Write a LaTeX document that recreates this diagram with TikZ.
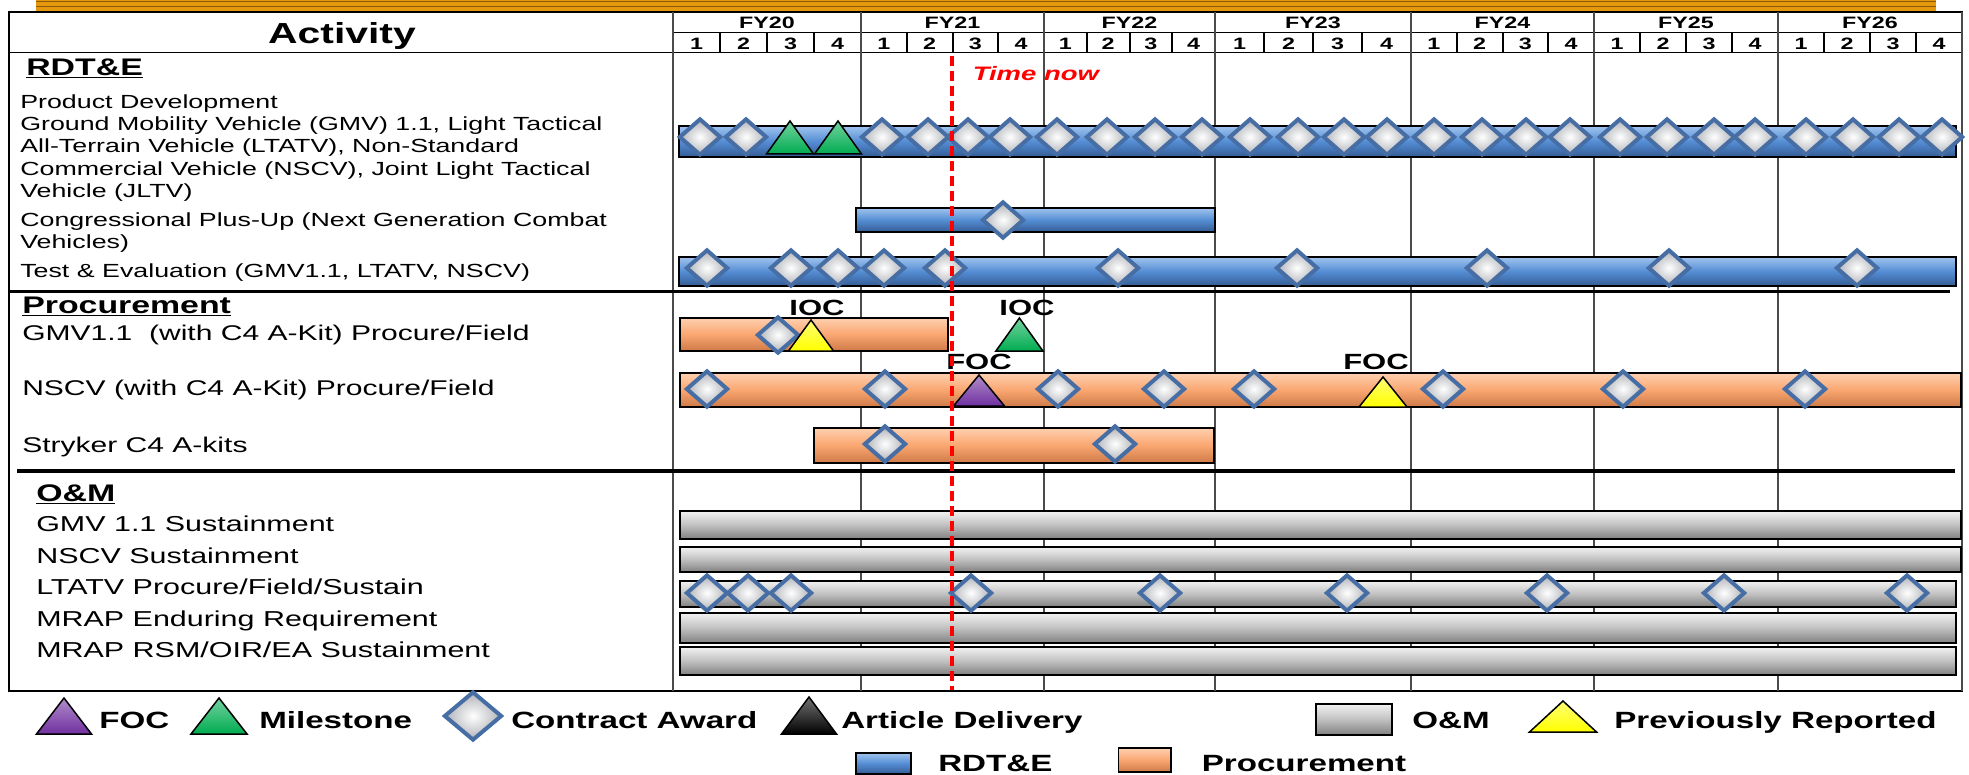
\documentclass[tikz,border=0pt]{standalone}
\usepackage{fontspec}
\setmainfont{Liberation Sans}
\usepackage{tikz}
\usetikzlibrary{shapes.geometric}
\definecolor{rdM}{RGB}{84,141,212}
\definecolor{rdL}{RGB}{160,196,238}
\definecolor{rdD}{RGB}{52,92,148}
\definecolor{prM}{RGB}{250,166,112}
\definecolor{prL}{RGB}{254,208,176}
\definecolor{prD}{RGB}{205,122,72}
\definecolor{omM}{RGB}{192,192,192}
\definecolor{omL}{RGB}{242,242,242}
\definecolor{omD}{RGB}{128,128,128}
\definecolor{awBlue}{RGB}{70,110,165}
\definecolor{awGray}{RGB}{175,177,182}
\definecolor{msGreen}{RGB}{0,172,80}
\definecolor{focPurple}{RGB}{112,48,160}
\definecolor{prevYellow}{RGB}{255,255,0}
\definecolor{bandOrange}{RGB}{229,152,14}
\definecolor{gridGray}{RGB}{75,75,75}
\tikzset{txt/.style={inner sep=0pt,xscale=1.41},
  lbl/.style={txt,anchor=base west,font=\fontsize{19}{22}\selectfont},
  lblb/.style={txt,anchor=base west,font=\fontsize{21.3}{24}\selectfont},
  sect/.style={txt,anchor=base west,font=\bfseries\fontsize{24}{28}\selectfont},
  leg/.style={txt,anchor=base west,font=\bfseries\fontsize{23.5}{28}\selectfont}
}

\begin{document}
\begin{tikzpicture}[x=1pt,y=-1pt]
		\tikzstyle{rbar}=[draw=black,line width=1.5pt,top color=rdL,bottom color=rdD,middle color=rdM]
		\tikzstyle{pbar}=[draw=black,line width=1.5pt,top color=prL,bottom color=prD,middle color=prM]
		\tikzstyle{obar}=[draw=black,line width=1.5pt,top color=omL,bottom color=omD,middle color=omM]
		\tikzstyle{award}=[diamond,minimum width=42pt,minimum height=37pt,inner sep=0pt,draw=awBlue,line width=4pt,inner color=white,outer color=awGray]
		\tikzstyle{bigaward}=[award,minimum width=58pt,minimum height=49pt]
		\tikzstyle{tri}=[draw=black,line width=1.5pt,line join=miter]
		\tikzstyle{fyhead}=[txt,anchor=base,font=\bfseries\fontsize{16.5}{18}\selectfont]
		\tikzstyle{mlab}=[txt,anchor=base,font=\bfseries\fontsize{22}{24}\selectfont]
		\tikzstyle{tframe}=[draw=black,line width=1.5pt]
		\tikzstyle{yline}=[draw=gridGray,line width=2pt]
		\tikzstyle{qtick}=[draw=black,line width=2pt]
		\tikzstyle{secline}=[draw=black,line width=3.5pt]
		\tikzstyle{tnow}=[draw=red,line width=3.5pt,dash pattern=on 10pt off 5pt]

		\useasboundingbox (0,0) rectangle (1969,775);

		% top band
		\fill[bandOrange] (36,0) rectangle (1936,11);
		\draw[bandOrange!60!black,line width=1pt] (36,1.5) -- (1936,1.5) (36,6.5) -- (1936,6.5);

		% table frame and header
		\draw[tframe] (9,12) rectangle (1962,691);
		\draw[tframe] (9,52.7) -- (1962,52.7);
		\draw[tframe] (673,32.3) -- (1962,32.3);
		\draw[yline] (673,12) -- (673,691);
		\node[txt,anchor=base,font=\bfseries\fontsize{29}{32}\selectfont] (act) at (342,43.7) {Activity};

		\foreach \a/\b [count=\k] in {673/861,861/1044,1044/1215,1215/1411,1411/1594,1594/1778,1778/1962}
		{
			\pgfmathtruncatemacro{\fy}{19+\k}
			\node[fyhead] (FY\fy) at ({(\a+\b)/2},28.5) {FY\fy};
			\foreach \q in {1,...,4}
			{
				\node[fyhead] (Q\fy-\q) at ({\a+(\q-0.5)*(\b-\a)/4},50) {\q};
				\ifnum \q>1
					\draw[qtick] ({\a+(\q-1)*(\b-\a)/4},32.3) -- ++(0,20.4);
				\fi
			}
			\draw[yline] (\b,12) -- (\b,691);
		}

		% section lines
		\draw[secline] (9,291.7) -- (1950,291.7);
		\draw[secline] (17,471) -- (1955,471);

		% RDT&E
		\node[sect] (rdte) at (26,75.3) {\underline{RDT\&E}};
		\node[lbl] (pd1) at (20,108.5) {Product Development};
		\node[lbl] (pd2) at (20,130.8) {Ground Mobility Vehicle (GMV) 1.1, Light Tactical};
		\node[lbl] (pd3) at (20,152.8) {All-Terrain Vehicle (LTATV), Non-Standard};
		\node[lbl] (pd4) at (20,175.1) {Commercial Vehicle (NSCV), Joint Light Tactical};
		\node[lbl] (pd5) at (20,197.5) {Vehicle (JLTV)};
		\node[lbl] (cp1) at (20,226.8) {Congressional Plus-Up (Next Generation Combat};
		\node[lbl] (cp2) at (20,248.5) {Vehicles)};
		\node[lbl] (te) at (20,277.5) {Test \& Evaluation (GMV1.1, LTATV, NSCV)};
		\draw[rbar] (679,126) rectangle (1956,157);
		\draw[rbar] (856,208) rectangle (1215,232);
		\draw[rbar] (679,257) rectangle (1956,286);

		% Procurement
		\node[sect] (proc) at (22,313.6) {\underline{Procurement}};
		\node[lblb] (gmv) at (22,340.8) {GMV1.1 \ (with C4 A-Kit) Procure/Field};
		\node[lblb] (nscv) at (22,395.8) {NSCV (with C4 A-Kit) Procure/Field};
		\node[lblb] (stry) at (22,452.5) {Stryker C4 A-kits};
		\draw[pbar] (680,318) rectangle (948,351);
		\draw[pbar] (680,373) rectangle (1961,407);
		\draw[pbar] (814,428) rectangle (1214,463);

		% O&M
		\node[sect] (om) at (36,501.9) {\underline{O\&M}};
		\foreach \t/\y [count=\i] in {{GMV 1.1 Sustainment}/531.7,{NSCV Sustainment}/563.7,{LTATV Procure/Field/Sustain}/594.4,{MRAP Enduring Requirement}/626,{MRAP RSM/OIR/EA Sustainment}/657.7}
			\node[lblb,font=\fontsize{21.6}{24}\selectfont] (om\i) at (36,\y) {\t};
		\foreach \ya/\yb/\xb in {511/539/1961,547/572/1961,581/607/1956,613/643/1956,647/675/1956}
			\draw[obar] (680,\ya) rectangle (\xb,\yb);

		% contract awards
		\foreach \x [count=\i] in {700,746,882,928,968,1010,1057,1107,1155,1202,1250,1298,1344,1387,1434,1482,1526,1570,1620,1667,1714,1755,1806,1853,1899,1942}
			\node[award] (pdA\i) at (\x,137) {};
		\node[award] (cpA1) at (1003,220) {};
		\foreach \x [count=\i] in {707,791,838,884,945,1118,1297,1487,1669,1857}
			\node[award] (teA\i) at (\x,268) {};
		\node[award] (gmvA1) at (778,335) {};
		\foreach \x [count=\i] in {707,885,1058,1164,1254,1443,1623,1805}
			\node[award] (nscvA\i) at (\x,389) {};
		\foreach \x [count=\i] in {885,1115}
			\node[award] (stryA\i) at (\x,444) {};
		\foreach \x [count=\i] in {707,748,791,971,1160,1347,1547,1724,1907}
			\node[award] (ltatvA\i) at (\x,593) {};

		% milestones, FOC, previously reported
		\foreach \x/\y/\w/\h/\c in {790/154/47/33/msGreen,838/154/47/33/msGreen,811/351/45/31/prevYellow,1019.4/351/47/33/msGreen,979/406/51/31/focPurple,1383/407/48/30/prevYellow,64/734/55/36/focPurple,219/734/56/36/msGreen,809/734/55/37/black,1563/732/67/31/prevYellow}
			\draw[tri,top color=\c!55!white,bottom color=\c] ({\x-\w/2},\y) -- (\x,{\y-\h}) -- ({\x+\w/2},\y) -- cycle;
		\node[mlab] (ioc1) at (817,315.8) {IOC};
		\node[mlab] (ioc2) at (1027,315.5) {IOC};
		\node[mlab] (foc1) at (979,369.5) {FOC};
		\node[mlab] (foc2) at (1376,369.5) {FOC};

		% time now
		\coordinate (tntop) at (952,56);
		\coordinate (tnbot) at (952,690);
		\draw[tnow] (tntop) -- (tnbot);
		\node[txt,anchor=base west,text=red,font=\bfseries\itshape\fontsize{19.5}{22}\selectfont] (tnlbl) at (972.5,80.3) {Time now};

		% legend
		\node[bigaward] (legA) at (473,716) {};
		\draw[obar] (1316,704) rectangle (1392,735);
		\draw[rbar] (856,753) rectangle (911,774);
		\draw[pbar] (1118.5,748) rectangle (1171,772);
		\node[leg] (legFOC) at (99,728.4) {FOC};
		\node[leg] (legMS) at (259,728.4) {Milestone};
		\node[leg] (legCA) at (511,728.4) {Contract Award};
		\node[leg] (legAD) at (841,728.4) {Article Delivery};
		\node[leg] (legOM) at (1412,728.4) {O\&M};
		\node[leg] (legPR) at (1614,728.4) {Previously Reported};
		\node[leg] (legRD) at (938,771.4) {RDT\&E};
		\node[leg] (legPC) at (1201.5,771.4) {Procurement};
\end{tikzpicture}
\end{document}
